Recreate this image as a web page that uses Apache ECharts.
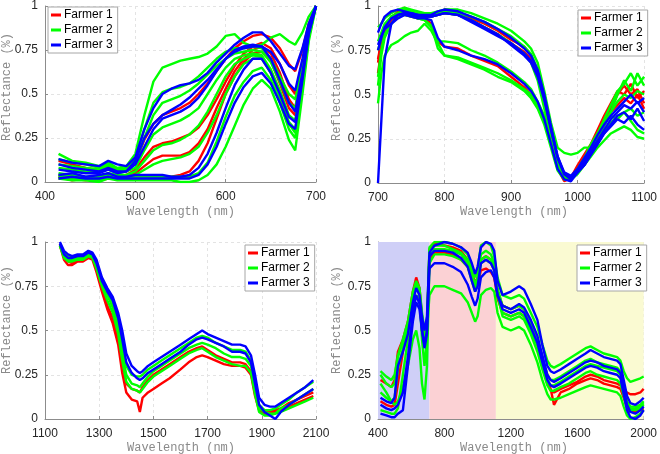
<!DOCTYPE html>
<html><head><meta charset="utf-8">
<script src="https://cdn.jsdelivr.net/npm/echarts@6/dist/echarts.min.js"></script>
<style>html,body{margin:0;padding:0;background:#fff}#c{width:660px;height:454px}</style>
</head><body><div id="c"></div>
<script>
// ---------- DATA ----------
const farmerNames = ['Farmer 1', 'Farmer 2', 'Farmer 3'];
const yTicks = [0, 0.25, 0.5, 0.75, 1];

// Panel 1: visible range (nm)
const visX = [415,430,445,460,470,480,490,500,510,520,530,540,550,560,570,580,590,600,610,620,630,640,650,660,670,677,685,692,700];
const visFarmer1 = [
  [0.12,0.1,0.08,0.07,0.09,0.07,0.07,0.11,0.24,0.33,0.38,0.4,0.42,0.45,0.5,0.56,0.63,0.7,0.76,0.8,0.83,0.84,0.82,0.76,0.67,0.63,0.75,0.9,1.0],
  [0.04,0.03,0.02,0.03,0.04,0.03,0.04,0.07,0.14,0.2,0.22,0.23,0.25,0.27,0.31,0.38,0.47,0.57,0.66,0.73,0.77,0.79,0.76,0.67,0.55,0.5,0.68,0.88,1.0],
  [0.02,0.02,0.01,0.02,0.03,0.02,0.03,0.05,0.09,0.13,0.15,0.15,0.15,0.17,0.22,0.3,0.42,0.53,0.63,0.7,0.75,0.77,0.73,0.62,0.47,0.42,0.64,0.87,1.0],
  [0.03,0.01,0.02,0.01,0.02,0.02,0.02,0.03,0.03,0.03,0.03,0.03,0.04,0.06,0.12,0.22,0.36,0.5,0.6,0.68,0.73,0.74,0.69,0.56,0.42,0.38,0.62,0.86,1.0]
];
const visFarmer2 = [
  [0.16,0.12,0.11,0.09,0.11,0.08,0.09,0.16,0.38,0.57,0.65,0.67,0.69,0.7,0.71,0.73,0.77,0.83,0.84,0.79,0.77,0.78,0.82,0.84,0.8,0.78,0.85,0.94,1.0],
  [0.13,0.11,0.1,0.08,0.1,0.07,0.08,0.13,0.3,0.45,0.51,0.53,0.54,0.56,0.6,0.65,0.7,0.74,0.76,0.76,0.77,0.76,0.7,0.6,0.5,0.47,0.66,0.86,1.0],
  [0.1,0.09,0.08,0.07,0.09,0.07,0.07,0.11,0.25,0.38,0.45,0.47,0.49,0.52,0.56,0.61,0.66,0.7,0.73,0.74,0.75,0.74,0.68,0.57,0.45,0.42,0.63,0.85,1.0],
  [0.08,0.07,0.06,0.06,0.07,0.05,0.06,0.08,0.18,0.27,0.31,0.33,0.35,0.38,0.42,0.5,0.58,0.65,0.7,0.72,0.73,0.72,0.64,0.52,0.38,0.35,0.6,0.85,1.0],
  [0.05,0.04,0.03,0.03,0.05,0.04,0.04,0.06,0.12,0.18,0.21,0.22,0.24,0.27,0.32,0.4,0.5,0.6,0.67,0.7,0.72,0.71,0.62,0.48,0.34,0.3,0.57,0.84,1.0],
  [0.04,0.03,0.02,0.03,0.04,0.02,0.03,0.04,0.07,0.1,0.12,0.13,0.14,0.16,0.2,0.28,0.38,0.5,0.6,0.67,0.7,0.7,0.62,0.48,0.33,0.28,0.55,0.83,1.0],
  [0.03,0.02,0.02,0.01,0.03,0.02,0.02,0.03,0.03,0.03,0.03,0.03,0.03,0.03,0.05,0.11,0.23,0.37,0.49,0.57,0.63,0.65,0.58,0.45,0.3,0.25,0.53,0.82,1.0],
  [0.02,0.01,0.01,0.0,0.02,0.01,0.01,0.01,0.01,0.01,0.01,0.01,0.0,0.0,0.01,0.04,0.1,0.2,0.32,0.44,0.53,0.58,0.53,0.4,0.24,0.18,0.5,0.8,1.0]
];
const visFarmer3 = [
  [0.13,0.11,0.1,0.09,0.12,0.1,0.09,0.14,0.3,0.42,0.5,0.53,0.55,0.56,0.58,0.62,0.68,0.73,0.78,0.82,0.85,0.85,0.8,0.73,0.66,0.64,0.76,0.9,1.0],
  [0.07,0.06,0.05,0.05,0.07,0.05,0.06,0.12,0.25,0.33,0.38,0.41,0.44,0.48,0.53,0.58,0.64,0.7,0.74,0.76,0.77,0.77,0.7,0.58,0.45,0.4,0.62,0.86,1.0],
  [0.1,0.08,0.07,0.06,0.08,0.06,0.06,0.1,0.2,0.3,0.36,0.38,0.4,0.43,0.48,0.55,0.63,0.7,0.75,0.77,0.78,0.77,0.74,0.67,0.56,0.52,0.7,0.88,1.0],
  [0.04,0.05,0.03,0.04,0.05,0.03,0.03,0.04,0.04,0.04,0.04,0.03,0.03,0.04,0.08,0.16,0.28,0.42,0.55,0.64,0.7,0.7,0.62,0.5,0.37,0.34,0.6,0.85,1.0],
  [0.02,0.03,0.02,0.02,0.03,0.02,0.02,0.02,0.02,0.02,0.02,0.02,0.02,0.02,0.04,0.1,0.2,0.33,0.45,0.54,0.6,0.62,0.56,0.45,0.33,0.3,0.58,0.84,1.0]
];

// Panel 2: near infrared (nm)
const nirX = [700,705,710,720,730,740,750,760,770,780,790,800,820,840,860,880,900,920,930,940,950,960,970,980,990,1000,1010,1020,1030,1040,1050,1060,1070,1080,1090,1100];
const nirFarmer1 = [
  [0.62,0.75,0.85,0.93,0.97,0.99,0.96,0.95,0.95,0.95,0.96,0.98,0.97,0.93,0.9,0.86,0.81,0.77,0.72,0.62,0.46,0.28,0.12,0.02,0.03,0.1,0.16,0.22,0.3,0.38,0.45,0.52,0.5,0.56,0.48,0.52],
  [0.7,0.8,0.86,0.92,0.96,0.95,0.94,0.93,0.93,0.9,0.8,0.77,0.76,0.72,0.69,0.66,0.6,0.54,0.5,0.44,0.35,0.22,0.08,0.01,0.03,0.08,0.14,0.2,0.26,0.34,0.42,0.5,0.55,0.5,0.53,0.45],
  [0.68,0.8,0.88,0.94,0.96,0.97,0.96,0.94,0.94,0.94,0.95,0.96,0.95,0.92,0.88,0.84,0.79,0.74,0.7,0.61,0.47,0.3,0.14,0.05,0.03,0.07,0.13,0.2,0.27,0.33,0.4,0.44,0.48,0.45,0.5,0.42]
];
const nirFarmer2 = [
  [0.88,0.9,0.93,0.96,0.98,0.99,0.98,0.97,0.96,0.96,0.97,0.98,0.98,0.96,0.93,0.9,0.86,0.8,0.76,0.68,0.52,0.34,0.2,0.17,0.16,0.17,0.2,0.2,0.24,0.3,0.34,0.38,0.4,0.42,0.38,0.4],
  [0.55,0.72,0.82,0.9,0.94,0.97,0.97,0.96,0.95,0.94,0.95,0.96,0.95,0.92,0.88,0.84,0.79,0.73,0.68,0.58,0.42,0.25,0.1,0.03,0.02,0.06,0.12,0.2,0.28,0.36,0.44,0.52,0.56,0.62,0.55,0.6],
  [0.75,0.82,0.88,0.94,0.96,0.98,0.97,0.95,0.95,0.95,0.96,0.97,0.96,0.94,0.91,0.87,0.83,0.77,0.73,0.64,0.49,0.3,0.13,0.04,0.03,0.08,0.14,0.22,0.28,0.34,0.38,0.36,0.4,0.35,0.3,0.28],
  [0.45,0.62,0.72,0.78,0.8,0.83,0.85,0.86,0.9,0.86,0.79,0.72,0.7,0.67,0.64,0.6,0.57,0.52,0.48,0.42,0.33,0.2,0.07,0.02,0.02,0.05,0.1,0.15,0.2,0.24,0.28,0.3,0.32,0.3,0.26,0.25],
  [0.8,0.85,0.9,0.94,0.96,0.97,0.95,0.93,0.92,0.88,0.8,0.8,0.79,0.75,0.72,0.68,0.63,0.57,0.53,0.46,0.38,0.24,0.1,0.04,0.03,0.07,0.13,0.2,0.27,0.34,0.4,0.46,0.5,0.48,0.52,0.5],
  [0.6,0.75,0.84,0.9,0.94,0.95,0.94,0.93,0.92,0.89,0.76,0.72,0.71,0.68,0.65,0.62,0.58,0.53,0.5,0.44,0.36,0.23,0.09,0.03,0.02,0.06,0.12,0.18,0.25,0.32,0.4,0.5,0.58,0.52,0.62,0.55]
];
const nirFarmer3 = [
  [0.0,0.35,0.7,0.9,0.95,0.96,0.95,0.94,0.94,0.94,0.95,0.96,0.95,0.92,0.88,0.84,0.78,0.72,0.68,0.6,0.47,0.3,0.14,0.05,0.03,0.07,0.12,0.18,0.24,0.3,0.36,0.4,0.44,0.42,0.46,0.4],
  [0.85,0.9,0.94,0.97,0.98,0.97,0.96,0.95,0.95,0.95,0.97,0.98,0.97,0.94,0.91,0.87,0.82,0.76,0.72,0.64,0.5,0.32,0.15,0.06,0.04,0.08,0.14,0.2,0.27,0.33,0.38,0.42,0.46,0.5,0.45,0.48],
  [0.75,0.82,0.88,0.93,0.95,0.96,0.96,0.95,0.94,0.94,0.95,0.96,0.95,0.91,0.87,0.83,0.79,0.73,0.69,0.62,0.48,0.31,0.15,0.05,0.02,0.06,0.1,0.16,0.22,0.28,0.33,0.38,0.4,0.36,0.42,0.35],
  [0.78,0.83,0.87,0.9,0.93,0.95,0.94,0.93,0.93,0.92,0.82,0.77,0.75,0.72,0.7,0.67,0.62,0.56,0.52,0.46,0.36,0.22,0.08,0.02,0.01,0.06,0.1,0.16,0.22,0.28,0.32,0.36,0.34,0.38,0.33,0.3]
];

// Panel 3: short-wave infrared (nm)
const swirX = [1155,1170,1185,1200,1220,1240,1260,1275,1290,1310,1330,1350,1370,1385,1400,1420,1440,1450,1460,1480,1500,1530,1560,1600,1630,1660,1680,1700,1730,1760,1790,1820,1840,1860,1875,1890,1910,1930,1950,1970,2000,2030,2060,2090];
const swirFarmer1 = [
  [0.99,0.92,0.89,0.88,0.9,0.9,0.92,0.91,0.85,0.74,0.64,0.57,0.46,0.32,0.2,0.17,0.16,0.15,0.18,0.22,0.25,0.28,0.31,0.35,0.38,0.4,0.41,0.39,0.36,0.34,0.32,0.32,0.31,0.27,0.15,0.06,0.04,0.04,0.05,0.06,0.09,0.11,0.13,0.15],
  [0.98,0.9,0.87,0.87,0.89,0.89,0.91,0.9,0.83,0.72,0.62,0.54,0.42,0.26,0.15,0.11,0.1,0.04,0.12,0.15,0.17,0.2,0.23,0.28,0.32,0.35,0.36,0.35,0.33,0.31,0.3,0.3,0.29,0.25,0.13,0.05,0.03,0.03,0.04,0.05,0.07,0.09,0.11,0.13]
];
const swirFarmer2 = [
  [0.99,0.94,0.92,0.91,0.92,0.92,0.94,0.93,0.88,0.78,0.72,0.66,0.55,0.42,0.3,0.25,0.24,0.24,0.25,0.28,0.3,0.33,0.36,0.4,0.43,0.46,0.47,0.46,0.43,0.41,0.39,0.39,0.38,0.33,0.2,0.08,0.05,0.05,0.06,0.08,0.11,0.15,0.18,0.21],
  [0.98,0.92,0.9,0.9,0.91,0.91,0.93,0.92,0.86,0.76,0.7,0.63,0.51,0.37,0.25,0.2,0.19,0.18,0.2,0.24,0.27,0.3,0.33,0.37,0.4,0.42,0.43,0.42,0.4,0.37,0.35,0.35,0.34,0.3,0.17,0.06,0.04,0.03,0.03,0.06,0.08,0.11,0.14,0.17],
  [0.98,0.91,0.89,0.89,0.9,0.9,0.92,0.91,0.85,0.75,0.67,0.6,0.48,0.33,0.21,0.17,0.16,0.15,0.17,0.21,0.24,0.27,0.3,0.34,0.37,0.39,0.4,0.38,0.35,0.33,0.31,0.3,0.3,0.26,0.14,0.04,0.02,0.02,0.03,0.04,0.06,0.08,0.1,0.12]
];
const swirFarmer3 = [
  [1.0,0.95,0.93,0.92,0.93,0.93,0.95,0.94,0.9,0.8,0.74,0.69,0.6,0.5,0.37,0.3,0.27,0.26,0.27,0.3,0.32,0.35,0.38,0.42,0.45,0.48,0.5,0.48,0.46,0.44,0.42,0.42,0.41,0.36,0.25,0.12,0.08,0.07,0.07,0.09,0.12,0.15,0.18,0.22],
  [0.99,0.93,0.91,0.91,0.92,0.92,0.94,0.93,0.88,0.78,0.72,0.67,0.57,0.45,0.32,0.26,0.23,0.22,0.23,0.26,0.28,0.31,0.34,0.38,0.42,0.45,0.46,0.45,0.43,0.41,0.38,0.38,0.37,0.32,0.2,0.08,0.04,0.02,0.0,0.04,0.08,0.11,0.14,0.17]
];

// Panel 4: full range (nm)
const fullX = [415,450,480,500,520,550,580,610,630,650,665,680,695,710,740,800,850,900,940,965,985,1000,1020,1050,1080,1100,1120,1150,1200,1250,1280,1320,1360,1390,1420,1440,1460,1500,1550,1600,1650,1680,1720,1760,1800,1840,1860,1880,1900,1920,1950,1980,2000];
const fullFarmer1 = [
  [0.22,0.2,0.18,0.22,0.38,0.45,0.55,0.72,0.8,0.74,0.58,0.48,0.55,0.9,0.94,0.94,0.93,0.9,0.86,0.8,0.74,0.76,0.84,0.85,0.83,0.8,0.68,0.6,0.58,0.6,0.58,0.5,0.42,0.3,0.2,0.16,0.15,0.17,0.19,0.21,0.24,0.25,0.24,0.22,0.21,0.2,0.19,0.16,0.15,0.14,0.14,0.15,0.17],
  [0.1,0.08,0.07,0.08,0.2,0.38,0.5,0.68,0.76,0.7,0.56,0.45,0.5,0.96,0.99,0.98,0.97,0.95,0.9,0.83,0.77,0.8,0.9,0.92,0.9,0.86,0.72,0.64,0.62,0.64,0.62,0.55,0.45,0.33,0.22,0.17,0.08,0.15,0.17,0.2,0.22,0.23,0.22,0.2,0.19,0.18,0.17,0.12,0.06,0.04,0.04,0.05,0.06]
];
const fullFarmer2 = [
  [0.27,0.24,0.22,0.25,0.36,0.45,0.55,0.72,0.78,0.74,0.6,0.5,0.55,0.97,1.0,1.0,0.99,0.97,0.93,0.86,0.8,0.85,0.98,1.0,0.98,0.92,0.8,0.7,0.68,0.7,0.68,0.6,0.52,0.42,0.33,0.3,0.29,0.31,0.34,0.37,0.4,0.41,0.39,0.37,0.36,0.35,0.33,0.27,0.23,0.21,0.22,0.23,0.24],
  [0.2,0.15,0.1,0.08,0.1,0.18,0.3,0.45,0.5,0.4,0.2,0.11,0.3,0.88,0.93,0.93,0.92,0.9,0.86,0.78,0.72,0.76,0.88,0.9,0.88,0.84,0.7,0.58,0.56,0.58,0.56,0.48,0.38,0.28,0.19,0.16,0.16,0.18,0.2,0.23,0.26,0.27,0.25,0.24,0.23,0.22,0.2,0.13,0.07,0.05,0.05,0.06,0.08],
  [0.05,0.04,0.03,0.03,0.06,0.25,0.45,0.62,0.7,0.66,0.52,0.42,0.5,0.7,0.75,0.75,0.73,0.71,0.66,0.6,0.55,0.58,0.7,0.73,0.74,0.72,0.6,0.52,0.5,0.52,0.5,0.42,0.32,0.22,0.14,0.11,0.11,0.12,0.14,0.16,0.18,0.19,0.18,0.17,0.16,0.15,0.13,0.07,0.02,0.0,0.01,0.03,0.05],
  [0.15,0.12,0.1,0.12,0.28,0.4,0.5,0.68,0.75,0.72,0.58,0.45,0.52,0.95,0.98,0.98,0.96,0.94,0.9,0.82,0.76,0.8,0.93,0.95,0.93,0.88,0.74,0.64,0.62,0.64,0.62,0.54,0.45,0.34,0.25,0.22,0.22,0.24,0.27,0.3,0.33,0.34,0.32,0.31,0.3,0.29,0.27,0.18,0.1,0.07,0.07,0.08,0.1],
  [0.25,0.2,0.18,0.2,0.35,0.44,0.52,0.7,0.77,0.7,0.45,0.3,0.45,0.92,0.96,0.96,0.95,0.93,0.88,0.8,0.74,0.78,0.9,0.92,0.9,0.86,0.72,0.6,0.58,0.6,0.58,0.5,0.42,0.31,0.22,0.19,0.19,0.21,0.24,0.27,0.3,0.31,0.3,0.29,0.28,0.27,0.25,0.16,0.09,0.06,0.06,0.07,0.09]
];
const fullFarmer3 = [
  [0.12,0.1,0.09,0.12,0.3,0.38,0.48,0.66,0.74,0.7,0.58,0.5,0.58,0.94,0.98,1.0,0.99,0.97,0.94,0.88,0.82,0.86,0.97,1.0,0.99,0.95,0.78,0.7,0.72,0.75,0.73,0.65,0.56,0.42,0.3,0.27,0.26,0.28,0.31,0.34,0.37,0.39,0.37,0.35,0.34,0.33,0.31,0.22,0.13,0.09,0.08,0.1,0.12],
  [0.08,0.06,0.05,0.06,0.08,0.15,0.35,0.6,0.7,0.65,0.5,0.42,0.5,0.85,0.88,0.88,0.86,0.83,0.76,0.69,0.64,0.68,0.8,0.83,0.84,0.8,0.7,0.64,0.62,0.65,0.63,0.56,0.47,0.36,0.25,0.22,0.21,0.23,0.26,0.29,0.32,0.33,0.32,0.3,0.29,0.28,0.26,0.17,0.08,0.04,0.03,0.05,0.07],
  [0.03,0.02,0.01,0.01,0.03,0.05,0.3,0.55,0.66,0.62,0.5,0.4,0.48,0.92,0.95,0.95,0.94,0.91,0.86,0.78,0.72,0.75,0.88,0.9,0.88,0.84,0.7,0.62,0.6,0.62,0.6,0.52,0.43,0.32,0.22,0.19,0.18,0.2,0.23,0.26,0.29,0.3,0.29,0.27,0.26,0.25,0.23,0.14,0.05,0.01,0.0,0.02,0.05]
];
const bandEdges = [400, 710, 1110, 2000];

// ---------- CHART ----------
const colors = ['#ff0000', '#00ff00', '#0000ff'];
const series = [];
function addCurves(xs, curves, fi, idx) {
  curves.forEach(c => series.push({
    type: 'line', name: farmerNames[fi], xAxisIndex: idx, yAxisIndex: idx,
    data: xs.map((x, i) => [x, c[i]]), symbol: 'none', showSymbol: false,
    lineStyle: { color: colors[fi], width: 2.4 }, itemStyle: { color: colors[fi] },
    z: 3, animation: false, silent: true
  }));
}
// background bands for panel 4
series.push({
  type: 'line', name: 'bands', xAxisIndex: 3, yAxisIndex: 3, data: [], z: 1, silent: true,
  markArea: { silent: true, data: [
    [{ xAxis: bandEdges[0], itemStyle: { color: '#cfcff7' } }, { xAxis: bandEdges[1] }],
    [{ xAxis: bandEdges[1], itemStyle: { color: '#fbd1d4' } }, { xAxis: bandEdges[2] }],
    [{ xAxis: bandEdges[2], itemStyle: { color: '#fafad2' } }, { xAxis: bandEdges[3] }]
  ] }
});
[visFarmer1, visFarmer2, visFarmer3].forEach((c, fi) => addCurves(visX, c, fi, 0));
[nirFarmer1, nirFarmer2, nirFarmer3].forEach((c, fi) => addCurves(nirX, c, fi, 1));
[swirFarmer1, swirFarmer2, swirFarmer3].forEach((c, fi) => addCurves(swirX, c, fi, 2));
[fullFarmer1, fullFarmer2, fullFarmer3].forEach((c, fi) => addCurves(fullX, c, fi, 3));

const grids = [
  { left: 45, top: 5, width: 271, height: 177 },
  { left: 378, top: 6, width: 271, height: 177 },
  { left: 45, top: 242, width: 271, height: 177 },
  { left: 378, top: 242, width: 271, height: 177 }
];
const xRanges = [[400, 700, 100], [700, 1100, 100], [1100, 2100, 200], [400, 2000, 400]];
const labelFont = { fontFamily: 'Liberation Sans, Arial, sans-serif', fontSize: 12, color: '#262626' };
const xAxes = xRanges.map((r, i) => ({
  type: 'value', gridIndex: i, min: r[0], max: r[1], interval: r[2],
  axisLine: { show: true, lineStyle: { color: '#8c8c8c', width: 1 } },
  axisTick: { show: true, inside: true, length: 3, lineStyle: { color: '#8c8c8c' } },
  axisLabel: Object.assign({ margin: 9, formatter: v => String(v) }, labelFont),
  splitLine: { show: true, lineStyle: { color: '#e3e3e3', type: [3, 3], width: 1 } }
}));
const yAxes = grids.map((g, i) => ({
  type: 'value', gridIndex: i, min: 0, max: 1, interval: 0.25,
  axisLine: { show: true, lineStyle: { color: '#8c8c8c', width: 1 } },
  axisTick: { show: true, inside: true, length: 3, lineStyle: { color: '#8c8c8c' } },
  axisLabel: Object.assign({ margin: 7, formatter: v => String(v) }, labelFont),
  splitLine: { show: true, lineStyle: { color: '#e3e3e3', type: [3, 3], width: 1 } }
}));
const legendPos = [[48, 7], [578, 10], [245, 245], [577, 245]];
const legends = legendPos.map(p => ({
  orient: 'vertical', left: p[0], top: p[1],
  data: farmerNames.map(n => ({ name: n, icon: 'rect' })),
  itemWidth: 10, itemHeight: 3, itemGap: 3, padding: [2, 5, 2, 3],
  backgroundColor: '#ffffff', borderColor: '#a6a6a6', borderWidth: 1, borderRadius: 0,
  selectedMode: false,
  textStyle: { fontFamily: 'Liberation Sans, Arial, sans-serif', fontSize: 12, color: '#000', padding: [0, 0, 0, -2] }
}));
const titleFont = 'Liberation Mono, DejaVu Sans Mono, monospace';
const xTitlePos = [[181, 212], [514, 212], [181, 448], [514, 448]];
const yTitlePos = [[7, 87], [337, 87], [7, 320], [337, 320]];
const graphics = [];
xTitlePos.forEach(p => graphics.push({ type: 'text', x: p[0], y: p[1], silent: true,
  style: { text: 'Wavelength (nm)', font: '12px ' + titleFont, fill: '#8a8a8a', textAlign: 'center', textVerticalAlign: 'middle' } }));
yTitlePos.forEach(p => graphics.push({ type: 'text', x: p[0], y: p[1], rotation: Math.PI / 2, silent: true,
  style: { text: 'Reflectance (%)', font: '12px ' + titleFont, fill: '#8a8a8a', textAlign: 'center', textVerticalAlign: 'middle' } }));

const chart = echarts.init(document.getElementById('c'), null, { renderer: 'canvas' });
chart.setOption({
  animation: false, backgroundColor: '#ffffff',
  grid: grids, xAxis: xAxes, yAxis: yAxes, legend: legends, series: series, graphic: graphics
});
</script></body></html>
